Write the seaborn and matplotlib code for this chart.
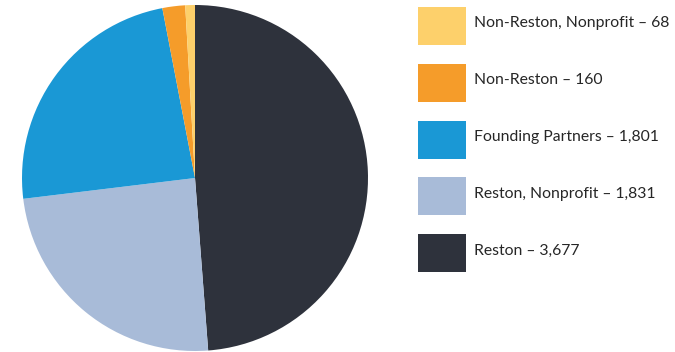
import matplotlib
matplotlib.use("Agg")
import matplotlib.pyplot as plt
from matplotlib.patches import Rectangle
import seaborn as sns

# Membership by category
categories = ["Reston", "Reston, Nonprofit", "Founding Partners", "Non-Reston", "Non-Reston, Nonprofit"]
members = [3677, 1831, 1801, 160, 68]
colors = ["#2e323c", "#a8bbd8", "#1a98d5", "#f59c2a", "#fdd06b"]

sns.set_theme(style="white")
plt.rcParams["font.family"] = ["Lato", "DejaVu Sans"]

W, H = 675, 352
fig = plt.figure(figsize=(W / 100, H / 100), dpi=100)

# Pie axes: center (195, 178), radius 173 in pixels
cx, cy, r = 195, 178, 173
ax = fig.add_axes([(cx - r) / W, (H - cy - r) / H, 2 * r / W, 2 * r / H])
ax.pie(members, colors=colors, startangle=90, counterclock=False,
       wedgeprops=dict(linewidth=0, antialiased=True))
ax.set_xlim(-1, 1)
ax.set_ylim(-1, 1)
ax.set_aspect("equal")
ax.axis("off")

# Legend: squares plus labels, top-to-bottom in reverse of the slice order
lax = fig.add_axes([0, 0, 1, 1])
lax.set_xlim(0, W)
lax.set_ylim(H, 0)
lax.axis("off")
top0, step, box_h, box_w, box_x = 7, 56.8, 38, 48, 418
for i, (cat, val, col) in enumerate(zip(categories[::-1], members[::-1], colors[::-1])):
    y = top0 + i * step
    lax.add_patch(Rectangle((box_x, y), box_w, box_h, facecolor=col, edgecolor="none"))
    lax.text(box_x + box_w + 8, y + 20.5, f"{cat} \u2013 {val:,}",
             fontsize=11.3, color="#262626", va="baseline", ha="left")

fig.savefig("out.png", dpi=100)
